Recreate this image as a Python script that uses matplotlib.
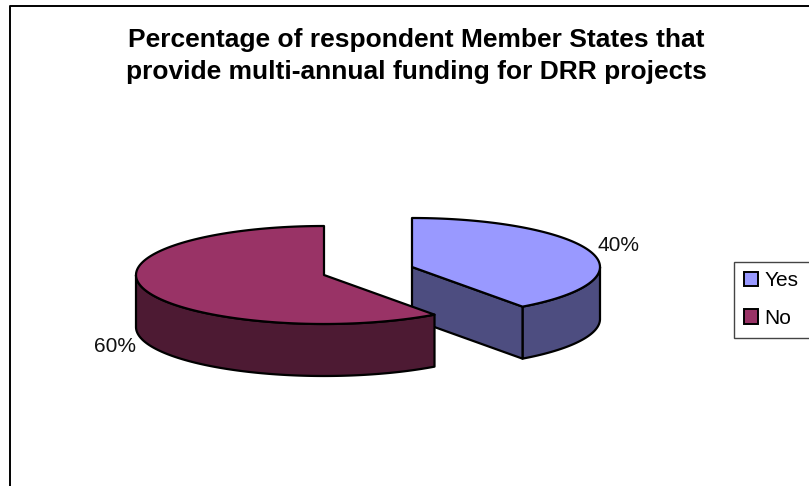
#!/usr/bin/env python

# 3D looking exploded pie, drawn by hand since matplotlib has no 3D pie
import numpy as np
import matplotlib
matplotlib.use('Agg')
import matplotlib.pyplot as plt
from matplotlib.patches import Polygon, Patch
from matplotlib.transforms import IdentityTransform

plt.rcParams['font.family'] = ['Liberation Sans', 'DejaVu Sans']

title = 'Percentage of respondent Member States that\nprovide multi-annual funding for DRR projects'
labels = ['Yes', 'No']
values = [40, 60]
top_colors = ['#9999FF', '#993366']
side_colors = ['#4D4D80', '#4D1A33']

# pie geometry in pixels
centers = [(412, 267), (324, 275)]
rx = 188
ry = 49
depth = 52


def rim(cx, cy, a0, a1):
    # angles are degrees clockwise from 12 o'clock
    a = np.radians(np.linspace(a0, a1, 120))
    return np.column_stack([cx + rx * np.sin(a), cy - ry * np.cos(a)])


def wall(pts):
    return np.vstack([pts, (pts + [0, depth])[::-1]])


fig = plt.figure(figsize=(8.09, 4.86), dpi=100)
ax = fig.add_axes([0, 0, 1, 1])
ax.set_xlim(0, 809)
ax.set_ylim(486, 0)
ax.axis('off')

# chart frame runs off the right and bottom of the image
ax.plot([10, 10, 809], [486, 6.5, 6.5], color='black', lw=1.4, clip_on=False)

start = 0
for i in range(len(values)):
    end = start + values[i] / sum(values) * 360
    cx, cy = centers[i]
    edge = rim(cx, cy, start, end)

    # outer wall, only the part that faces the viewer
    a0 = max(start, 90)
    a1 = min(end, 270)
    ax.add_patch(Polygon(wall(rim(cx, cy, a0, a1)), closed=True, fc=side_colors[i], ec='black', lw=1.6, joinstyle='round'))

    # cut face looking at the viewer
    if i == 0:
        face = np.array([[cx, cy], edge[-1]])
        ax.add_patch(Polygon(wall(face), closed=True, fc=side_colors[i], ec='black', lw=1.6, joinstyle='round'))

    ax.add_patch(Polygon(np.vstack([[cx, cy], edge]), closed=True, fc=top_colors[i], ec='black', lw=1.6, joinstyle='round'))
    start = end

ax.text(416, 56, title, ha='center', va='center', fontsize=19, fontweight='bold', linespacing=1.4)
ax.text(619, 245, f'{values[0]}%', ha='center', va='center', fontsize=15, color='#111111')
ax.text(115, 346.5, f'{values[1]}%', ha='center', va='center', fontsize=15, color='#111111')

# legend box is cut off by the right edge of the image, so make it wider than the room left
handles = [Patch(fc=top_colors[i], ec='black', lw=1.4, label=labels[i]) for i in range(2)]
leg = ax.legend(handles=handles, loc='upper left', bbox_to_anchor=(734, 486 - 261.5, 90, 0), bbox_transform=IdentityTransform(),
                mode='expand', fontsize=15, frameon=True, fancybox=False, framealpha=1, edgecolor='#444444',
                handlelength=0.68, handleheight=0.7, handletextpad=0.3, labelspacing=0.9,
                borderpad=0.47, borderaxespad=0)
leg.get_frame().set_linewidth(1.0)

plt.savefig('out.png', dpi=100)
